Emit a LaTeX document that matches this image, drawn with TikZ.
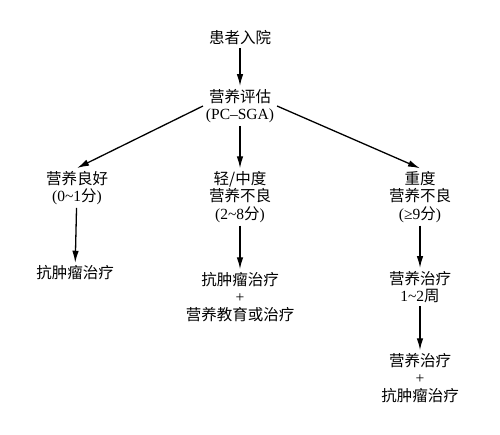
\documentclass[tikz,border=0pt]{standalone}
\usepackage{fontspec}
\setmainfont{Liberation Serif}
\newfontfamily\cjk{Noto Sans CJK SC}
\newcommand{\zh}[1]{{\cjk #1}}
\usetikzlibrary{arrows.meta}
\begin{document}
\begin{tikzpicture}[x=1pt,y=-1pt,
  lbl/.style={align=center,font=\fontsize{15.5}{17.5}\selectfont,inner sep=1pt,outer sep=2pt},
  arr/.style={-{Latex[length=12pt,width=6.5pt]},line width=1.3pt}]
\useasboundingbox (0,0) rectangle (500,434);
\node[lbl] (n1) at (240,38) {\zh{患者入院}};
\node[lbl] (n2) at (240,106) {\zh{营养评估}\\(PC–SGA)};
\node[lbl] (l1) at (77,188) {\zh{营养良好}\\(0\textasciitilde1\zh{分})};
\node[lbl] (m1) at (240,197) {\zh{轻/中度}\\\zh{营养不良}\\(2\textasciitilde8\zh{分})};
\node[lbl] (r1) at (420,197) {\zh{重度}\\\zh{营养不良}\\(≥9\zh{分})};
\node[lbl] (l2) at (75,273) {\zh{抗肿瘤治疗}};
\node[lbl] (m2) at (240,297) {\zh{抗肿瘤治疗}\\+\\\zh{营养教育或治疗}};
\node[lbl] (r2) at (420,287) {\zh{营养治疗}\\1\textasciitilde2\zh{周}};
\node[lbl] (r3) at (420,378) {\zh{营养治疗}\\+\\\zh{抗肿瘤治疗}};
\draw[arr] (n1) -- (n2);
\draw[arr] (n2.west) -- (l1.north);
\draw[arr] (n2) -- (m1);
\draw[arr] (n2.east) -- (r1.north);
\draw[arr] (l1) -- (l2);
\draw[arr] (m1) -- (m2);
\draw[arr] (r1) -- (r2);
\draw[arr] (r2) -- (r3);
\end{tikzpicture}
\end{document}
